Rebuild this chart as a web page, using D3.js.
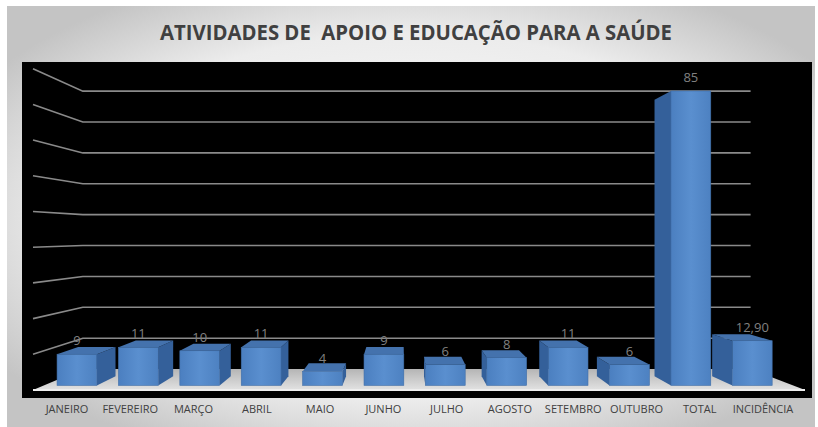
<!DOCTYPE html>
<html>
<head>
<meta charset="utf-8">
<script src="https://cdn.jsdelivr.net/npm/d3@7"></script>
<style>
  body { margin: 0; background: #fff; }
  text { font-family: "Open Sans", "DejaVu Sans", sans-serif; }
</style>
</head>
<body>
<svg id="chart" width="818" height="427"></svg>
<script>
// categories along the floor
const categories = ["JANEIRO", "FEVEREIRO", "MARÇO", "ABRIL", "MAIO", "JUNHO",
  "JULHO", "AGOSTO", "SETEMBRO", "OUTUBRO", "TOTAL", "INCIDÊNCIA"];
// number of activities
const values = [9, 11, 10, 11, 4, 9, 6, 8, 11, 6, 85, 12.9];
// gridlines on the back wall
const gridTicks = [0, 10, 20, 30, 40, 50, 60, 70, 80, 90];
const title = "ATIVIDADES DE  APOIO E EDUCAÇÃO PARA A SAÚDE";

const svg = d3.select("#chart");

// fake 3d: everything is drawn on the front plane and pushed back toward a vanishing point
const vx = 402, vy = 235;
const depth = z => 1 - 0.135 * z;
function project(X, Y, z) {
  const p = depth(z);
  return [vx + (X - vx) * p, vy + (Y - vy) * p];
}

const x = d3.scalePoint().domain(categories).range([67, 763]);
const y = d3.scaleLinear().domain([0, 90]).range([390, 390 - 90 * 3.57]);
const barW = 41;
const zFront = 0.22, zBack = 0.66;

const ptBR = d3.formatLocale({ decimal: ",", thousands: ".", grouping: [3], currency: ["R$", ""] });
const fmtLabel = v => Number.isInteger(v) ? ptBR.format("d")(v) : ptBR.format(".2f")(v);

const defs = svg.append("defs");
const bg = defs.append("radialGradient").attr("id", "bg")
  .attr("cx", "50%").attr("cy", "50%").attr("r", "62%");
bg.append("stop").attr("offset", "0%").attr("stop-color", "#ffffff");
bg.append("stop").attr("offset", "70%").attr("stop-color", "#ececec");
bg.append("stop").attr("offset", "100%").attr("stop-color", "#c4c4c4");

const floorGrad = defs.append("linearGradient").attr("id", "floor")
  .attr("x1", 0).attr("y1", 0).attr("x2", 0).attr("y2", 1);
floorGrad.append("stop").attr("offset", "0%").attr("stop-color", "#b5b5b5");
floorGrad.append("stop").attr("offset", "100%").attr("stop-color", "#e2e2e2");

const frontGrad = defs.append("linearGradient").attr("id", "front")
  .attr("x1", 0).attr("y1", 0).attr("x2", 1).attr("y2", 0);
frontGrad.append("stop").attr("offset", "0%").attr("stop-color", "#4b7fc0");
frontGrad.append("stop").attr("offset", "50%").attr("stop-color", "#5a8fcf");
frontGrad.append("stop").attr("offset", "100%").attr("stop-color", "#4d81c1");

// outer panel
svg.append("rect").attr("x", 7).attr("y", 6).attr("width", 808).attr("height", 421)
  .attr("fill", "url(#bg)");

// black plot area
svg.append("rect").attr("x", 22).attr("y", 62).attr("width", 790).attr("height", 336)
  .attr("fill", "#000");

// gridlines: side wall + back wall
const line = d3.line();
const leftX = 33, rightX = 805;
svg.append("g").selectAll("path")
  .data(gridTicks.filter(t => t > 0))
  .join("path")
  .attr("d", t => line([project(leftX, y(t), 0), project(leftX, y(t), 1), project(rightX, y(t), 1)]))
  .attr("fill", "none")
  .attr("stroke", "#8a8a8a")
  .attr("stroke-width", 1.6);

// floor
const floorPts = [project(leftX, y(0), 0), project(rightX, y(0), 0),
  project(rightX, y(0), 1), project(leftX, y(0), 1)];
svg.append("path").attr("d", line(floorPts) + "Z").attr("fill", "url(#floor)");
svg.append("path")
  .attr("d", line([project(leftX, y(0), 0), project(rightX, y(0), 0)]))
  .attr("stroke", "#eeeeee").attr("stroke-width", 2);

// bars
const bars = svg.append("g");
categories.forEach((c, i) => {
  const v = values[i];
  const X0 = x(c) - barW / 2, X1 = x(c) + barW / 2;
  const Yt = y(v), Yb = y(0);
  const g = bars.append("g");
  const sideX = x(c) < vx ? X1 : X0;
  g.append("path")
    .attr("d", line([project(sideX, Yt, zFront), project(sideX, Yt, zBack),
      project(sideX, Yb, zBack), project(sideX, Yb, zFront)]) + "Z")
    .attr("fill", "#34609a");
  if (Yt > vy) {
    g.append("path")
      .attr("d", line([project(X0, Yt, zFront), project(X1, Yt, zFront),
        project(X1, Yt, zBack), project(X0, Yt, zBack)]) + "Z")
      .attr("fill", "#4472ad");
  }
  const a = project(X0, Yt, zFront), b = project(X1, Yb, zFront);
  g.append("rect")
    .attr("x", a[0]).attr("y", a[1])
    .attr("width", b[0] - a[0]).attr("height", b[1] - a[1])
    .attr("fill", "url(#front)")
    .attr("stroke", "#406ea8").attr("stroke-width", 0.6);

  const lp = project(x(c), Yt, zFront);
  svg.append("text")
    .attr("x", lp[0]).attr("y", lp[1] - 9)
    .attr("text-anchor", "middle")
    .attr("font-size", 13)
    .attr("fill", "#808080")
    .text(fmtLabel(v));
});

// category labels
svg.append("g").selectAll("text")
  .data(categories)
  .join("text")
  .attr("x", d => x(d))
  .attr("y", 413)
  .attr("text-anchor", "middle")
  .attr("font-size", 11)
  .attr("fill", "#404040")
  .text(d => d);

// title
svg.append("text")
  .attr("x", 416).attr("y", 40)
  .attr("text-anchor", "middle")
  .attr("font-size", 21)
  .attr("font-weight", "bold")
  .attr("fill", "#404040")
  .attr("textLength", 512)
  .attr("lengthAdjust", "spacingAndGlyphs")
  .style("white-space", "pre")
  .text(title);
</script>
</body>
</html>
